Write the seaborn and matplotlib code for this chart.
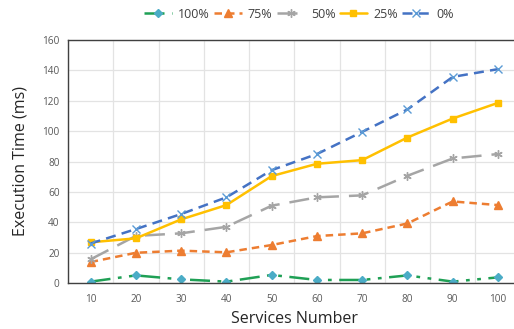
import matplotlib
matplotlib.use("Agg")
import matplotlib.pyplot as plt
import seaborn as sns
import pandas as pd
import numpy as np

services = [10, 20, 30, 40, 50, 60, 70, 80, 90, 100]
s100 = [0.9, 5.0, 2.4, 0.9, 5.3, 2.0, 2.0, 5.0, 0.9, 3.7]
s75 = [13.8, 19.9, 21.3, 20.2, 25.0, 30.9, 32.7, 39.2, 53.7, 51.3]
s50 = [15.6, 31.0, 32.7, 37.0, 50.9, 56.4, 57.7, 70.6, 82.0, 84.9]
s25 = [26.8, 29.4, 41.9, 51.3, 70.4, 78.5, 80.9, 95.8, 108.3, 118.6]
s0 = [26.0, 35.5, 45.4, 56.4, 74.3, 84.9, 99.5, 114.3, 135.7, 140.8]
labels = ["100%", "75%", "50%", "25%", "0%"]
series = [s100, s75, s50, s25, s0]

sns.set_theme(style="white")
plt.rcParams["font.family"] = ["Open Sans", "DejaVu Sans"]

rows = []
for lab, vals in zip(labels, series):
    for i, (s, v) in enumerate(zip(services, vals)):
        rows.append({"pos": i, "services": s, "time": v, "series": lab})
df = pd.DataFrame(rows)

styles = {
    "100%": dict(color="#1FA055", ls=(0, (8, 3, 1.5, 3, 1.5, 3)), marker="D", ms=4.2, mfc="#4BACC6", mec="#4BACC6"),
    "75%": dict(color="#ED7D31", ls=(0, (3, 2)), marker="^", ms=5.2, mfc="#ED7D31", mec="#ED7D31"),
    "50%": dict(color="#A5A5A5", ls=(0, (8, 4)), marker=(6, 2, 0), ms=6, mfc="#A5A5A5", mec="#A5A5A5"),
    "25%": dict(color="#FFC000", ls="-", marker="s", ms=4.6, mfc="#FFC000", mec="#FFC000"),
    "0%": dict(color="#4472C4", ls=(0, (4, 2.5)), marker="x", ms=6, mfc="#5B9BD5", mec="#5B9BD5"),
}

fig = plt.figure(figsize=(5.14, 3.29), dpi=100)
ax = fig.add_axes([68/514, 1-283/329, (520.6-68)/514, (283-40)/329])

handles = []
for lab in labels:
    st = styles[lab]
    sub = df[df["series"] == lab]
    sns.lineplot(data=sub, x="pos", y="time", ax=ax, color=st["color"], linewidth=1.8,
                 marker=st["marker"], markersize=st["ms"], markerfacecolor=st["mfc"],
                 markeredgecolor=st["mec"], markeredgewidth=1.0, legend=False)
    line = ax.lines[-1]
    line.set_linestyle(st["ls"])
    line.set_label(lab)
    handles.append(line)

ax.set_xlim(-0.5, 9.5)
ax.set_ylim(0, 160)
ax.set_yticks(np.arange(0, 161, 20))
ax.set_xticks(range(len(services)))
ax.set_xticklabels([str(s) for s in services])
ax.set_xticks(np.arange(-0.5, 10, 1), minor=True)
ax.grid(False)
ax.grid(True, which="minor", axis="x", color="#E3E3E3", lw=0.9)
ax.grid(True, which="major", axis="y", color="#E3E3E3", lw=0.9)
ax.set_axisbelow(True)
ax.tick_params(axis="both", which="both", length=0, labelsize=7.2, labelcolor="#595959", pad=8)
ax.tick_params(axis="y", pad=6)
for sp in ax.spines.values():
    sp.set_color("#404040")
    sp.set_linewidth(1.0)

ax.set_xlabel("Services Number", fontsize=11.5, color="#262626", labelpad=4)
ax.set_ylabel("Execution Time (ms)", fontsize=11.5, color="#262626", labelpad=10)

fig.legend(handles=handles, labels=labels, loc="center", bbox_to_anchor=(299/514, 1-14/329),
           ncol=5, frameon=False, fontsize=9, handlelength=2.2, columnspacing=0.35,
           handletextpad=0.5, labelcolor="#404040", borderpad=0)

fig.savefig("out.png", dpi=100)
